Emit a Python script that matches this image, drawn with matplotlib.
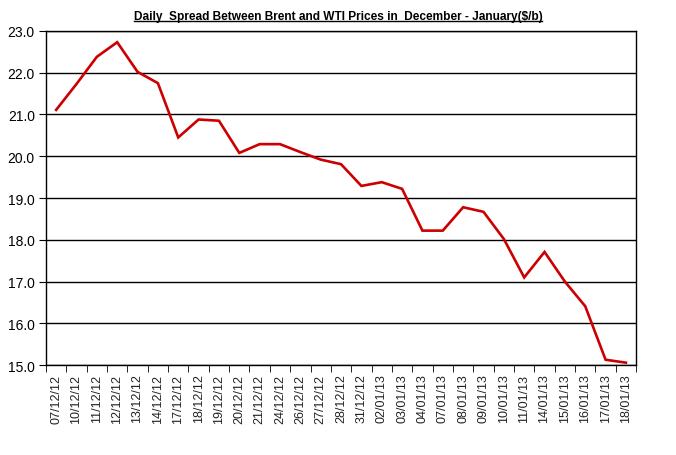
import matplotlib
matplotlib.use("Agg")
import matplotlib.pyplot as plt
from matplotlib.lines import Line2D
from matplotlib import font_manager

# Spread Brent - WTI, $/b
dates = ["07/12/12", "10/12/12", "11/12/12", "12/12/12", "13/12/12", "14/12/12",
         "17/12/12", "18/12/12", "19/12/12", "20/12/12", "21/12/12", "24/12/12",
         "26/12/12", "27/12/12", "28/12/12", "31/12/12", "02/01/13", "03/01/13",
         "04/01/13", "07/01/13", "08/01/13", "09/01/13", "10/01/13", "11/01/13",
         "14/01/13", "15/01/13", "16/01/13", "17/01/13", "18/01/13"]
spread = [21.11, 21.73, 22.38, 22.73, 22.02, 21.75, 20.45, 20.88, 20.85, 20.08,
          20.29, 20.29, 20.10, 19.92, 19.81, 19.29, 19.38, 19.22, 18.22, 18.22,
          18.78, 18.67, 18.02, 17.10, 17.71, 17.00, 16.41, 15.13, 15.06]
yticks = [15.0, 16.0, 17.0, 18.0, 19.0, 20.0, 21.0, 22.0, 23.0]

names = {f.name for f in font_manager.fontManager.ttflist}
narrow = "Liberation Sans Narrow" in names
title_font = "Liberation Sans Narrow" if narrow else "Liberation Sans"
title_size = 10 if narrow else 8.6
plt.rcParams['font.family'] = ['Liberation Sans', 'DejaVu Sans']

fig = plt.figure(figsize=(6.76, 4.56), dpi=100)
ax = fig.add_axes([0.068, 0.197, 0.873, 0.733])

x = list(range(len(dates)))
ax.plot(x, spread, color='#cc0000', lw=1.9, solid_joinstyle='miter')

ax.set_xlim(-0.5, len(dates) - 0.5)
ax.set_ylim(15.0, 23.0)
ax.set_yticks(yticks)
ax.set_yticklabels(["%.1f" % v for v in yticks], fontsize=10)
ax.yaxis.grid(True, color='black', lw=1)
ax.set_axisbelow(True)

ax.set_xticks(x)
ax.set_xticklabels(dates, rotation=90, fontsize=9, color='#222222')
ax.set_xticks([i - 0.5 for i in range(len(dates) + 1)], minor=True)
ax.tick_params(axis='x', which='major', length=0, pad=6)
ax.tick_params(axis='x', which='minor', length=5, direction='out', color='black')
ax.tick_params(axis='y', length=5, direction='out', color='black', pad=3)

for s in ax.spines.values():
    s.set_color('black')
    s.set_linewidth(1)

t = fig.text(0.5, 0.963, "Daily  Spread Between Brent and WTI Prices in  December - January($/b)",
             ha='center', va='center', fontsize=title_size, fontweight='bold', family=title_font)
fig.canvas.draw()
bb = t.get_window_extent().transformed(fig.transFigure.inverted())
fig.add_artist(Line2D([bb.x0, bb.x1], [bb.y0 + 0.002, bb.y0 + 0.002], color='black', lw=1,
                      transform=fig.transFigure))

fig.savefig("out.png", dpi=100)
